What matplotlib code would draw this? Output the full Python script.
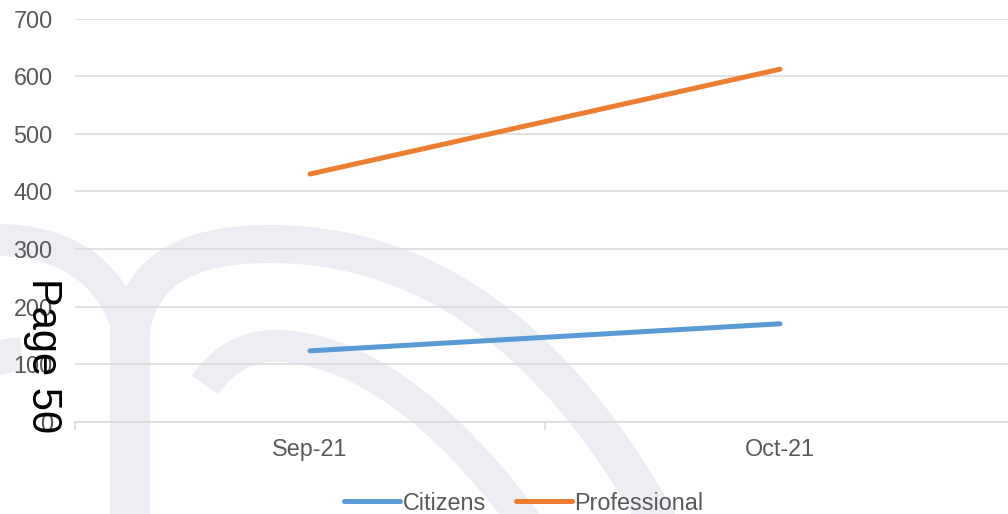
import matplotlib
matplotlib.use("Agg")
import matplotlib.pyplot as plt
from matplotlib.path import Path
from matplotlib.patches import PathPatch

months = ["Sep-21", "Oct-21"]
citizens = [123, 170]
professional = [430, 612]
y_ticks = [0, 100, 200, 300, 400, 500, 600, 700]

plt.rcParams["font.family"] = ["Liberation Sans", "DejaVu Sans"]

W, H = 1008, 514
fig = plt.figure(figsize=(W / 100, H / 100), dpi=100)

# faint logo watermark behind the chart, drawn in pixel coords
bg = fig.add_axes([0, 0, 1, 1], zorder=0)
bg.set_xlim(0, W)
bg.set_ylim(H, 0)
bg.axis("off")
wm_color = "#eceef3"
C = Path.CURVE4
strokes = [
    # stem
    ([(130, 530), (130, 300)], [Path.MOVETO, Path.LINETO], 40),
    # left arch
    ([(-20, 240), (60, 236), (112, 268), (130, 335)], [Path.MOVETO, C, C, C], 32),
    # big right arch
    ([(130, 335), (140, 262), (200, 244), (270, 244),
      (420, 244), (555, 330), (665, 535)],
     [Path.MOVETO, C, C, C, C, C, C], 38),
    # inner arc
    ([(205, 385), (225, 356), (250, 345), (280, 346),
      (370, 350), (460, 430), (535, 535)],
     [Path.MOVETO, C, C, C, C, C, C], 32),
    # small piece at the left edge
    ([(-60, 385), (-25, 362), (0, 356), (22, 354)], [Path.MOVETO, C, C, C], 34),
]
for pts, codes, w in strokes:
    bg.add_patch(PathPatch(Path(pts, codes), fill=False, edgecolor=wm_color,
                           linewidth=w * 0.72, capstyle="butt"))

# main chart, right edge runs a little past the figure
left, right, bottom, top = 75, 1015, 421.7, 18.5
ax = fig.add_axes([left / W, (H - bottom) / H, (right - left) / W, (bottom - top) / H],
                  zorder=1)
ax.set_facecolor("none")

x = [0.5, 1.5]
ax.plot(x, citizens, color="#5b9bd5", linewidth=3.6, solid_capstyle="round",
        label="Citizens", zorder=3)
ax.plot(x, professional, color="#ed7d31", linewidth=3.6, solid_capstyle="round",
        label="Professional", zorder=3)

ax.set_xlim(0, 2)
ax.set_ylim(0, 700)
ax.set_yticks(y_ticks)
ax.yaxis.grid(True, color="#d9d9d9", linewidth=1.1)
ax.set_axisbelow(True)
for s in ["top", "right", "left"]:
    ax.spines[s].set_visible(False)
ax.spines["bottom"].set_color("#d9d9d9")
ax.spines["bottom"].set_linewidth(1.1)

ax.set_xticks([0, 1, 2])
ax.set_xticklabels([])
ax.tick_params(axis="x", which="major", length=6, width=1.1, color="#d9d9d9")
ax.set_xticks(x, minor=True)
ax.set_xticklabels(months, minor=True)
ax.tick_params(axis="x", which="minor", length=0, pad=12, labelsize=16.8,
               labelcolor="#595959")
ax.tick_params(axis="y", length=0, pad=16, labelsize=16.8, labelcolor="#595959")

fig.legend(loc="center", bbox_to_anchor=(524 / W, (H - 503) / H), ncol=2,
           frameon=False, fontsize=16.8, labelcolor="#595959",
           handlelength=2.4, handletextpad=0.1, columnspacing=1.3,
           borderpad=0, borderaxespad=0)

fig.text(43 / W, (H - 356) / H, "Page 50", rotation=-90, fontsize=30,
         color="black", ha="center", va="center", zorder=5)

fig.savefig("out.png", dpi=100)
